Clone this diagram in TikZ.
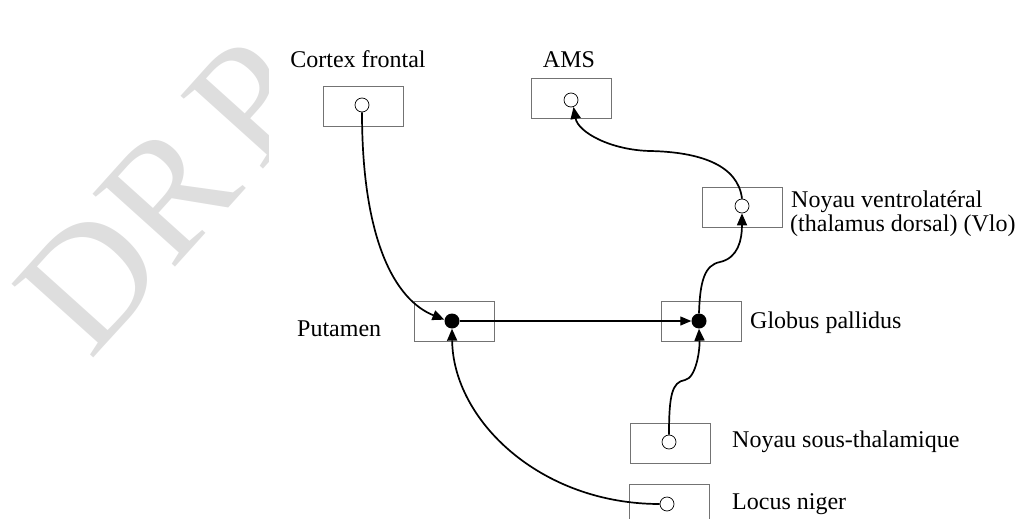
\documentclass[tikz,border=0pt]{standalone}
\usepackage{fontspec}
\setmainfont{Liberation Serif}
\usetikzlibrary{arrows.meta}
\definecolor{wmgray}{RGB}{222,222,222}
\begin{document}
\begin{tikzpicture}[x=1pt,y=-1pt,
  box/.style={draw=black!55,line width=0.9pt,minimum width=80pt,minimum height=40pt,inner sep=0pt},
  open/.style={circle,draw,fill=white,line width=0.7pt,minimum size=14pt,inner sep=0pt},
  full/.style={circle,fill=black,minimum size=15pt,inner sep=0pt},
  lab/.style={font=\fontsize{24}{25}\selectfont,inner sep=0pt},
  conn/.style={line width=1.7pt,-{Triangle[length=12pt,width=10pt]}},
]
\useasboundingbox (0,0) rectangle (1020,519);
\clip (0,0) rectangle (1020,519);
% watermark
\begin{scope}
  \clip (0,0) rectangle (268,519);
  \node[rotate=48,anchor=base west,inner sep=0pt,text=wmgray,
        font=\fontsize{168}{168}\selectfont] (wm) at (90,362) {DR\hspace{-22pt} P};
\end{scope}
% boxes
\node[box] (cf) at (363,106) {};
\node[box] (ams) at (571,98) {};
\node[box] (vl) at (742,207) {};
\node[box] (pu) at (454,321) {};
\node[box] (gp) at (701,321) {};
\node[box] (st) at (670,443) {};
\node[box] (ln) at (669,504) {};
% circles
\node[open] (cfc) at (362,105) {};
\node[open] (ac) at (571,100) {};
\node[open] (vc) at (742,206) {};
\node[open] (stc) at (669,442) {};
\node[open] (lnc) at (667,504) {};
\node[full] (pc) at (452,321) {};
\node[full] (gc) at (699,321) {};
% labels
\node[lab,anchor=base] (tcf) at (358,68) {Cortex frontal};
\node[lab,anchor=base] (tams) at (569,67) {AMS};
\node[lab,anchor=base west] (tvl1) at (791,207) {Noyau ventrolatéral};
\node[lab,anchor=base west] (tvl2) at (790,231) {(thalamus dorsal) (Vlo)};
\node[lab,anchor=base west] (tpu) at (297,336) {Putamen};
\node[lab,anchor=base west] (tgp) at (750,328) {Globus pallidus};
\node[lab,anchor=base west] (tst) at (732,447) {Noyau sous-thalamique};
\node[lab,anchor=base west] (tln) at (732,509) {Locus niger};
% connectors
\draw[conn] (cfc.south) .. controls (362,240) and (395,300) .. (pc.170);
\draw[line width=1.1pt,-{Triangle[length=11pt,width=9pt]}] (pc.east) -- (gc.west);
\draw[conn] (lnc.west) .. controls (540,504) and (453,420) .. (pc.south);
\draw[conn] (stc.north) .. controls (669,395) and (672,382) .. (685,380) .. controls (696,378) and (700,350) .. (gc.south);
\draw[conn] (gc.north) .. controls (700,280) and (705,265) .. (720,262) .. controls (738,258) and (742,240) .. (vc.south);
\draw[conn] (vc.north) .. controls (738,165) and (700,152) .. (650,151) .. controls (610,150) and (578,132) .. (ac.-70);
\end{tikzpicture}
\end{document}
